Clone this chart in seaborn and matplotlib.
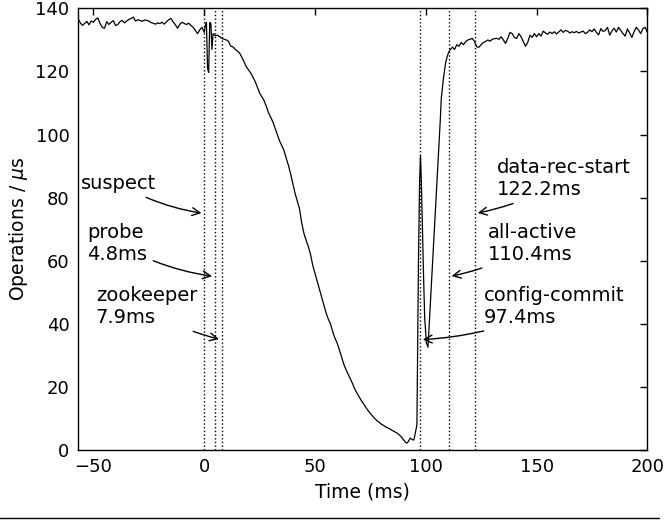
import numpy as np
import pandas as pd
import matplotlib
matplotlib.use("Agg")
import matplotlib.pyplot as plt
import seaborn as sns

# throughput trace (time in ms, ops per microsecond)
time_ms = [
    -57, -56, -55, -54, -53, -52, -51, -50, -49, -48, -47, -46, -45, -44, -43,
    -42, -41, -40, -39, -38, -37, -36, -35, -34, -33, -32, -31, -30, -29, -28,
    -27, -26, -25, -24, -23, -22, -21, -20, -19, -18, -17, -16, -15, -14, -13,
    -12, -11, -10, -9, -8, -7, -6, -5, -4, -3, -2, -1, 0,
    0.5, 1.0, 1.5, 2.0, 2.5, 3.0, 3.5, 4, 5, 6, 7, 8, 9, 10, 11, 12, 13, 14,
    15, 16, 17, 18, 19, 20, 21, 22, 23, 24, 25, 26, 27, 28, 29, 30, 31, 32,
    33, 34, 35, 36, 37, 38, 39, 40, 41, 42, 43, 44, 45, 46, 47, 48, 49, 50,
    51, 52, 53, 54, 55, 56, 57, 58, 59, 60, 61, 62, 63, 64, 65, 66, 67, 68,
    69, 70, 71, 72, 73, 74, 75, 76, 77, 78, 79, 80, 81, 82, 83, 84, 85, 86,
    87, 88, 89, 90, 91, 91.5, 92, 93, 94, 94.6, 95, 95.5, 96, 96.3, 96.7,
    97.2, 97.6, 98, 98.5, 99, 99.5, 100.3, 101, 102, 103, 104, 105, 106,
    106.5, 107, 108, 108.6, 109, 110, 110.8, 112, 113, 114, 115, 116, 117,
    118, 119, 120, 121, 122, 123, 124, 125, 126, 127, 128, 129, 130, 131,
    132, 133, 134, 135, 136, 137, 138, 139, 140, 141, 142, 143, 144, 145,
    146, 147, 148, 149, 150, 151, 152, 153, 154, 155, 156, 157, 158, 159,
    160, 161, 162, 163, 164, 165, 166, 167, 168, 169, 170, 171, 172, 173,
    174, 175, 176, 177, 178, 179, 180, 181, 182, 183, 184, 185, 186, 187,
    188, 189, 190, 191, 192, 193, 194, 195, 196, 197, 198, 199, 200,
]
ops = [
    136.8, 135.5, 134.6, 135.2, 135.9, 134.8, 136.0, 135.6, 136.5, 137.0,
    135.2, 134.0, 133.7, 135.8, 134.9, 135.6, 136.1, 134.6, 134.9, 135.8,
    136.2, 135.4, 136.0, 136.5, 136.8, 137.2, 136.0, 136.4, 136.2, 135.9,
    136.3, 136.2, 136.0, 135.5, 135.3, 135.0, 135.4, 135.2, 135.6, 135.0,
    135.8, 136.4, 136.8, 135.7, 134.8, 133.7, 135.0, 135.6, 135.2, 134.9,
    135.3, 134.6, 134.0, 133.0, 132.0, 133.2, 134.0, 132.4,
    134.5, 135.6, 121.0, 119.7, 135.5, 135.2, 127.0, 132.0, 131.3, 131.5,
    131.0, 130.5, 130.2, 130.0, 129.5, 128.0, 127.8, 127.0, 126.5, 125.8,
    124.5, 123.0, 121.5, 120.5, 119.5, 118.2, 116.8, 115.0, 113.2, 112.0,
    110.8, 109.0, 107.0, 105.5, 104.0, 102.0, 100.0, 98.0, 96.5, 95.0, 92.5,
    90.3, 87.5, 84.5, 81.4, 79.0, 76.5, 72.0, 68.7, 66.5, 64.5, 62.0, 58.5,
    56.0, 53.5, 51.0, 48.5, 46.0, 43.5, 41.5, 40.0, 37.5, 35.5, 33.9, 31.8,
    29.5, 27.2, 25.5, 24.0, 22.5, 21.0, 19.3, 18.0, 16.8, 15.6, 14.6, 13.5,
    12.5, 11.6, 10.8, 10.0, 9.3, 8.8, 8.2, 7.8, 7.3, 7.0, 6.6, 6.2, 5.8, 5.4,
    4.8, 4.2, 3.2, 2.4, 2.2, 2.6, 3.8, 3.3, 3.2, 4.5, 6.3, 8.0, 30.0, 60.0,
    85.0, 93.4, 85.0, 70.0, 55.0, 42.0, 33.9, 32.6, 45.5, 58.5, 71.5, 84.5,
    97.5, 104.0, 111.5, 118.0, 121.0, 123.0, 125.5, 126.7, 127.7, 127.0,
    128.5, 128.0, 129.2, 128.5, 129.5, 130.0, 130.2, 130.5, 129.5, 127.8,
    127.7, 128.5, 129.2, 129.5, 130.0, 129.6, 130.2, 130.4, 130.5, 130.2,
    131.0, 130.0, 128.9, 130.5, 132.4, 132.0, 130.8, 130.5, 132.0, 131.0,
    129.5, 128.0, 129.2, 131.5, 130.8, 132.0, 131.0, 132.0, 131.2, 132.8,
    132.2, 131.8, 132.5, 132.0, 132.6, 131.9, 132.5, 133.2, 132.4, 133.0,
    132.8, 132.2, 132.6, 132.3, 132.7, 132.2, 132.5, 132.8, 132.0, 132.4,
    133.2, 132.6, 133.5, 132.4, 131.6, 133.6, 132.7, 133.0, 134.0, 131.5,
    132.8, 133.7, 132.5, 134.0, 133.0, 132.0, 131.2, 133.5, 132.2, 130.8,
    132.6, 134.0, 133.2, 132.0, 133.6, 134.0, 132.5,
]

# events: vertical markers and their labels
event_times = [0, 4.8, 7.9, 97.4, 110.4, 122.2]
event_labels = ["suspect", "probe\n4.8ms", "zookeeper\n7.9ms",
                "config-commit\n97.4ms", "all-active\n110.4ms",
                "data-rec-start\n122.2ms"]
arrow_y = [75, 55, 35, 35, 55, 75]
label_pos = [(-55.5, 84.5), (-52.7, 65.5), (-49, 45.5),
             (126, 45.5), (128, 65.5), (132, 86)]
arrow_rad = [0.1, 0.1, 0.1, -0.1, -0.1, -0.1]

df = pd.DataFrame({"time": time_ms, "ops": ops})

sns.set_style("white")
plt.rcParams["font.family"] = ["DejaVu Sans"]
plt.rcParams["font.size"] = 13
for k in ["text.color", "axes.labelcolor", "xtick.color", "ytick.color"]:
    plt.rcParams[k] = "black"

fig = plt.figure(figsize=(6.66, 5.24), dpi=100)
ax = fig.add_axes([0.117, 0.141, 0.855, 0.843])

sns.lineplot(data=df, x="time", y="ops", ax=ax, color="black",
             linewidth=0.9, estimator=None, sort=False)

for t in event_times:
    ax.axvline(t, color="black", linestyle=":", linewidth=1.0)

for lab, t, ya, pos, rad in zip(event_labels, event_times, arrow_y,
                                label_pos, arrow_rad):
    ax.annotate(lab, xy=(t, ya), xytext=pos, ha="left", va="center",
                fontsize=14, color="black",
                arrowprops=dict(arrowstyle="->", color="black", lw=1.0,
                                connectionstyle="arc3,rad=%s" % rad))

ax.set_xlim(-57, 200)
ax.set_ylim(0, 140)
ax.set_xticks([-50, 0, 50, 100, 150, 200])
ax.set_yticks([0, 20, 40, 60, 80, 100, 120, 140])
ax.set_xlabel("Time (ms)", fontsize=13.5)
ax.set_ylabel("Operations / $\\mu$s", fontsize=13.5)
ax.tick_params(direction="in", top=True, right=True, length=5, width=1,
               labelsize=13, pad=6)
for s in ax.spines.values():
    s.set_color("black")
    s.set_linewidth(1.0)

fig.add_artist(plt.Line2D([0, 0.99], [0.011, 0.011], color="black",
                          linewidth=1.0, transform=fig.transFigure))

fig.savefig("out.png", dpi=100)
